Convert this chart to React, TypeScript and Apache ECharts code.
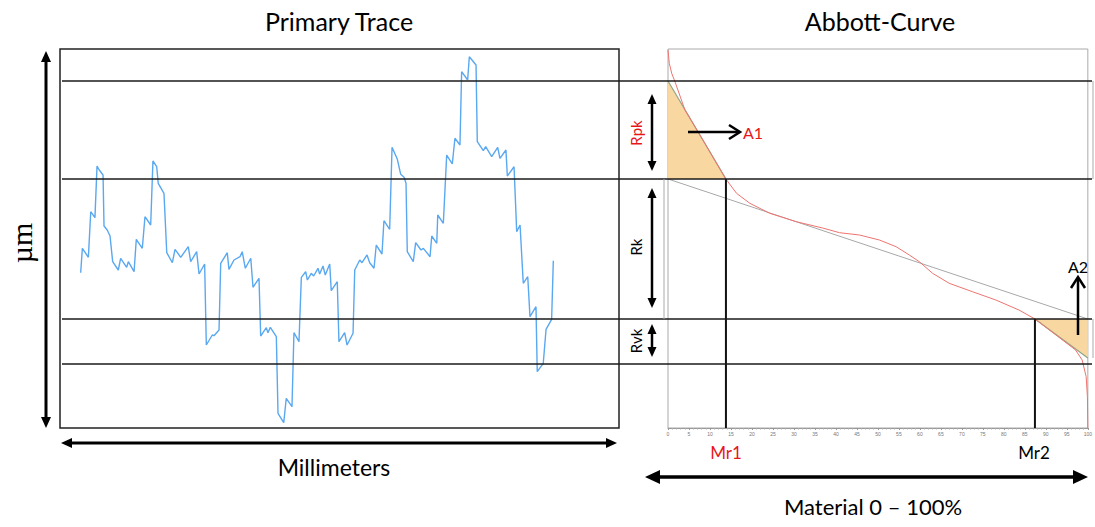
import React, { useEffect, useRef } from 'react';
import * as echarts from 'echarts';

// Primary trace: position along the profile (mm) and height (µm)
const traceX = [
  0.148, 0.160, 0.203, 0.220, 0.250, 0.265, 0.281, 0.308, 0.315, 0.338, 0.358, 0.377, 0.417, 0.434, 0.477, 0.489,
  0.530, 0.546, 0.589, 0.608, 0.649, 0.665, 0.692, 0.703, 0.744, 0.764, 0.804, 0.823, 0.864, 0.918, 0.935, 0.978,
  0.995, 1.035, 1.047, 1.090, 1.102, 1.138, 1.150, 1.197, 1.209, 1.245, 1.288, 1.304, 1.326, 1.365, 1.381, 1.424,
  1.436, 1.476, 1.488, 1.505, 1.548, 1.560, 1.601, 1.619, 1.660, 1.674, 1.710, 1.727, 1.758, 1.770, 1.798, 1.815,
  1.846, 1.858, 1.882, 1.898, 1.930, 1.941, 1.984, 1.996, 2.037, 2.054, 2.097, 2.109, 2.145, 2.161, 2.197, 2.216,
  2.247, 2.263, 2.304, 2.318, 2.359, 2.376, 2.414, 2.438, 2.462, 2.476, 2.485, 2.528, 2.545, 2.583, 2.600, 2.648,
  2.660, 2.696, 2.703, 2.743, 2.767, 2.807, 2.826, 2.862, 2.874, 2.917, 2.929, 2.977, 2.986, 3.029, 3.046, 3.089,
  3.132, 3.148, 3.191, 3.201, 3.249, 3.268, 3.292, 3.315, 3.347, 3.363, 3.406, 3.415, 3.458, 3.478, 3.518, 3.530,
];
const traceY = [
  -0.902, -0.259, -0.496, 0.707, 0.549, 1.913, 1.807, 1.675, 0.330, 0.224, 0.066, -0.612, -0.831, -0.522, -0.760, -0.612,
  -0.876, -0.021, -0.259, 0.575, 0.356, 2.045, 1.894, 1.456, 1.193, -0.375, -0.639, -0.285, -0.496, -0.216, -0.612, -0.348,
  -0.937, -0.673, -2.810, -2.546, -2.565, -2.414, -0.654, -0.375, -0.813, -0.567, -0.480, -0.348, -0.786, -0.522, -1.288, -1.050,
  -2.573, -2.354, -2.485, -2.343, -2.591, -4.612, -4.860, -4.216, -4.438, -2.485, -2.723, -1.024, -0.876, -1.095, -0.918, -0.989,
  -0.786, -0.937, -0.726, -0.963, -0.673, -1.377, -1.140, -2.723, -2.485, -2.810, -2.501, -0.831, -0.567, -0.639, -0.435, -0.639,
  -0.786, -0.172, -0.409, 0.470, 0.243, 2.406, 2.090, 1.694, 1.615, 1.456, -0.348, -0.612, -0.111, -0.303, -0.259, -0.480,
  0.066, -0.127, 0.620, 0.401, 2.203, 1.966, 2.644, 2.467, 4.401, 4.182, 4.797, 4.578, 2.554, 2.317, 2.422, 2.158,
  2.406, 2.116, 2.335, 1.649, 1.894, 0.179, 0.356, -1.182, -1.008, -2.063, -1.799, -3.514, -3.293, -2.396, -2.132, -0.586,
];

// Abbott (material ratio) curve: material ratio (%) and height (µm)
const abbottX = [
  0, 0.31, 0.88, 1.66, 4.04, 7.6, 11.16, 13.78, 16.32, 19.48, 24.23, 30.57, 36.82, 40.86, 45.61, 50.36,
  54.32, 57.48, 59.86, 63.02, 66.98, 72.52, 78.08, 83.61, 87.41, 97.08, 98.65, 99.6, 99.9, 100,
];
const abbottY = [
  4.974, 4.623, 4.359, 4.137, 3.39, 2.731, 2.063, 1.57, 1.193, 0.929, 0.665, 0.443, 0.277, 0.153, 0.092, -0.04,
  -0.216, -0.435, -0.612, -0.918, -1.182, -1.404, -1.623, -1.887, -2.124, -2.942, -3.206, -3.646, -4.174, -5.0,
];

// Reference levels (µm): top of Rpk, top of core, bottom of core, bottom of Rvk
const levelValues = [4.156, 1.57, -2.124, -3.311];
// Material ratios Mr1, Mr2 (%)
const mrValues = [13.8, 87.4];
// Lower corner of the A2 triangle (µm)
const a2Bottom = -3.153;

const FONT = 'Lato, "Open Sans", sans-serif';

function arrowHead(tipX: number, tipY: number, dir: 'up' | 'down' | 'left' | 'right', len: number, half: number, fill = '#000') {
  let pts: number[][];
  if (dir === 'up') pts = [[tipX, tipY], [tipX - half, tipY + len], [tipX + half, tipY + len]];
  else if (dir === 'down') pts = [[tipX, tipY], [tipX - half, tipY - len], [tipX + half, tipY - len]];
  else if (dir === 'left') pts = [[tipX, tipY], [tipX + len, tipY - half], [tipX + len, tipY + half]];
  else pts = [[tipX, tipY], [tipX - len, tipY - half], [tipX - len, tipY + half]];
  return { type: 'polygon', shape: { points: pts }, style: { fill }, z: 100 };
}
function seg(x1: number, y1: number, x2: number, y2: number, stroke = '#000', lineWidth = 2.5) {
  return { type: 'line', shape: { x1, y1, x2, y2 }, style: { stroke, lineWidth }, z: 100 };
}
function txt(text: string, x: number, y: number, fontSize: number, fill = '#000', extra: any = {}) {
  return {
    type: 'text', x, y, z: 100,
    style: { text, fill, fontSize, fontFamily: FONT, align: 'center', verticalAlign: 'middle', ...(extra.style || {}) },
    ...(extra.props || {}),
  };
}

export default function App() {
  const ref = useRef<HTMLDivElement>(null);
  useEffect(() => {
    document.body.style.margin = '0';
    const chart = echarts.init(ref.current!, undefined, { renderer: 'svg' });
    const tracePts = traceX.map((x, i) => [x, traceY[i]]);
    const abbottPts = abbottX.map((x, i) => [x, abbottY[i]]);
    const [mr1, mr2] = mrValues;
    const a1Poly = [[0, levelValues[0]], [0, levelValues[1]], [mr1, levelValues[1]]];
    const a2Poly = [[mr2, levelValues[2]], [100, levelValues[2]], [100, a2Bottom]];
    const tri = (poly: number[][]) => ({
      type: 'custom', xAxisIndex: 1, yAxisIndex: 1, data: [0], silent: true, z: 1,
      renderItem: (_p: any, api: any) => ({
        type: 'polygon',
        shape: { points: poly.map((p) => api.coord(p)) },
        style: { fill: '#F9D7A1', stroke: 'none' },
      }),
    });
    const lineS = (data: number[][], color: string, width: number, z = 3) => ({
      type: 'line', xAxisIndex: 1, yAxisIndex: 1, data, symbol: 'none', silent: true, z,
      lineStyle: { color, width },
    });

    chart.setOption({
      animation: false,
      grid: [
        { left: 60, top: 49, width: 559, height: 379, show: true, borderColor: '#222', borderWidth: 1.5, backgroundColor: 'transparent' },
        { left: 668, top: 49, width: 421, height: 379, show: true, borderColor: '#aaa', borderWidth: 1, backgroundColor: 'transparent' },
      ],
      xAxis: [
        { type: 'value', gridIndex: 0, min: 0, max: 4, show: false },
        {
          type: 'value', gridIndex: 1, min: 0, max: 100, interval: 5, position: 'bottom',
          axisLine: { show: true, onZero: false, lineStyle: { color: '#999', width: 1 } },
          axisTick: { show: true, length: 2, lineStyle: { color: '#999' } },
          minorTick: { show: true, splitNumber: 5, length: 1.5, lineStyle: { color: '#aaa' } },
          splitLine: { show: false },
          axisLabel: { fontSize: 5, color: '#777', margin: 3 },
        },
      ],
      yAxis: [
        { type: 'value', gridIndex: 0, min: -5, max: 5, show: false },
        { type: 'value', gridIndex: 1, min: -5, max: 5, show: false },
      ],
      series: [
        {
          type: 'line', xAxisIndex: 0, yAxisIndex: 0, data: tracePts, symbol: 'none', silent: true,
          lineStyle: { color: '#5aa8f0', width: 1.4 }, z: 3,
        },
        tri(a1Poly),
        tri(a2Poly),
        lineS([[0, levelValues[1]], [100, levelValues[2]]], '#a8a8a8', 1, 2),
        lineS([[0, levelValues[0]], [mr1, levelValues[1]]], '#8fa58a', 1.2, 3),
        lineS([[mr2, levelValues[2]], [100, a2Bottom]], '#8fa58a', 1.2, 3),
        lineS(abbottPts, '#ee7470', 1, 4),
        lineS([[mr1, levelValues[1]], [mr1, -5]], '#111', 2, 5),
        lineS([[mr2, levelValues[2]], [mr2, -5]], '#111', 2, 5),
      ],
    });

    const ly = levelValues.map((v) => chart.convertToPixel({ yAxisIndex: 0 }, v) as number);
    const graphic: any[] = [];
    ly.forEach((y) => graphic.push(seg(62, y, 1092, y, '#1a1a1a', 1.5)));
    // thin gray brackets
    graphic.push(seg(1093, ly[0], 1093, ly[1], '#aaa', 1));
    graphic.push(seg(1093, ly[2], 1093, 358, '#aaa', 1));
    graphic.push(seg(664, ly[1], 664, ly[2], '#aaa', 1));
    // left vertical double arrow
    graphic.push(seg(46, 60, 46, 420, '#000', 3));
    graphic.push(arrowHead(46, 51, 'up', 11, 5));
    graphic.push(arrowHead(46, 428, 'down', 11, 5));
    // horizontal arrow under trace
    graphic.push(seg(70, 443, 609, 443, '#000', 3));
    graphic.push(arrowHead(61, 443, 'left', 11, 5));
    graphic.push(arrowHead(617, 443, 'right', 11, 5));
    // bottom arrow (material)
    graphic.push(seg(655, 477, 1078, 477, '#000', 3.5));
    graphic.push(arrowHead(645, 477, 'left', 15, 7));
    graphic.push(arrowHead(1088, 477, 'right', 15, 7));
    // Rpk / Rk / Rvk arrows
    const vArrow = (x: number, y1: number, y2: number) => {
      graphic.push(seg(x, y1 + 8, x, y2 - 8, '#000', 2.5));
      graphic.push(arrowHead(x, y1, 'up', 10, 4.5));
      graphic.push(arrowHead(x, y2, 'down', 10, 4.5));
    };
    vArrow(652, 94, 171);
    vArrow(652, 188, 308);
    vArrow(652, 324, 357);
    // A1 arrow
    graphic.push(seg(688, 132, 739, 132, '#000', 2.5));
    graphic.push({ type: 'polyline', shape: { points: [[729, 125], [740, 132], [729, 139]] }, style: { stroke: '#000', lineWidth: 2.5, fill: null }, z: 100 });
    // A2 arrow
    graphic.push(seg(1078, 335, 1078, 278, '#000', 2.5));
    graphic.push({ type: 'polyline', shape: { points: [[1071, 288], [1078, 277], [1085, 288]] }, style: { stroke: '#000', lineWidth: 2.5, fill: null }, z: 100 });
    // texts
    graphic.push(txt('Primary Trace', 339, 21, 25));
    graphic.push(txt('Abbott-Curve', 880, 21, 25));
    graphic.push(txt('Millimeters', 334, 467, 23));
    graphic.push(txt('Material 0 – 100%', 873, 506, 22));
    graphic.push({
      type: 'text', x: 21, y: 243, rotation: Math.PI / 2, z: 100,
      style: { text: 'µm', fill: '#000', fontSize: 30, fontFamily: '"Liberation Serif", "DejaVu Serif", serif', align: 'center', verticalAlign: 'middle' },
    });
    const rot = { props: { rotation: Math.PI / 2 } };
    graphic.push(txt('Rpk', 636, 133, 15, '#e8161b', rot));
    graphic.push(txt('Rk', 636, 247, 15, '#000', rot));
    graphic.push(txt('Rvk', 636, 341, 15, '#000', rot));
    graphic.push(txt('A1', 753, 132, 16, '#e8161b'));
    graphic.push(txt('A2', 1078, 266, 16, '#000'));
    graphic.push(txt('Mr1', 726, 452, 17, '#e8161b'));
    graphic.push(txt('Mr2', 1034, 452, 17, '#000'));
    chart.setOption({ graphic });

    return () => chart.dispose();
  }, []);
  return <div ref={ref} style={{ position: 'absolute', left: 0, top: 0, width: 1095, height: 527 }} />;
}
